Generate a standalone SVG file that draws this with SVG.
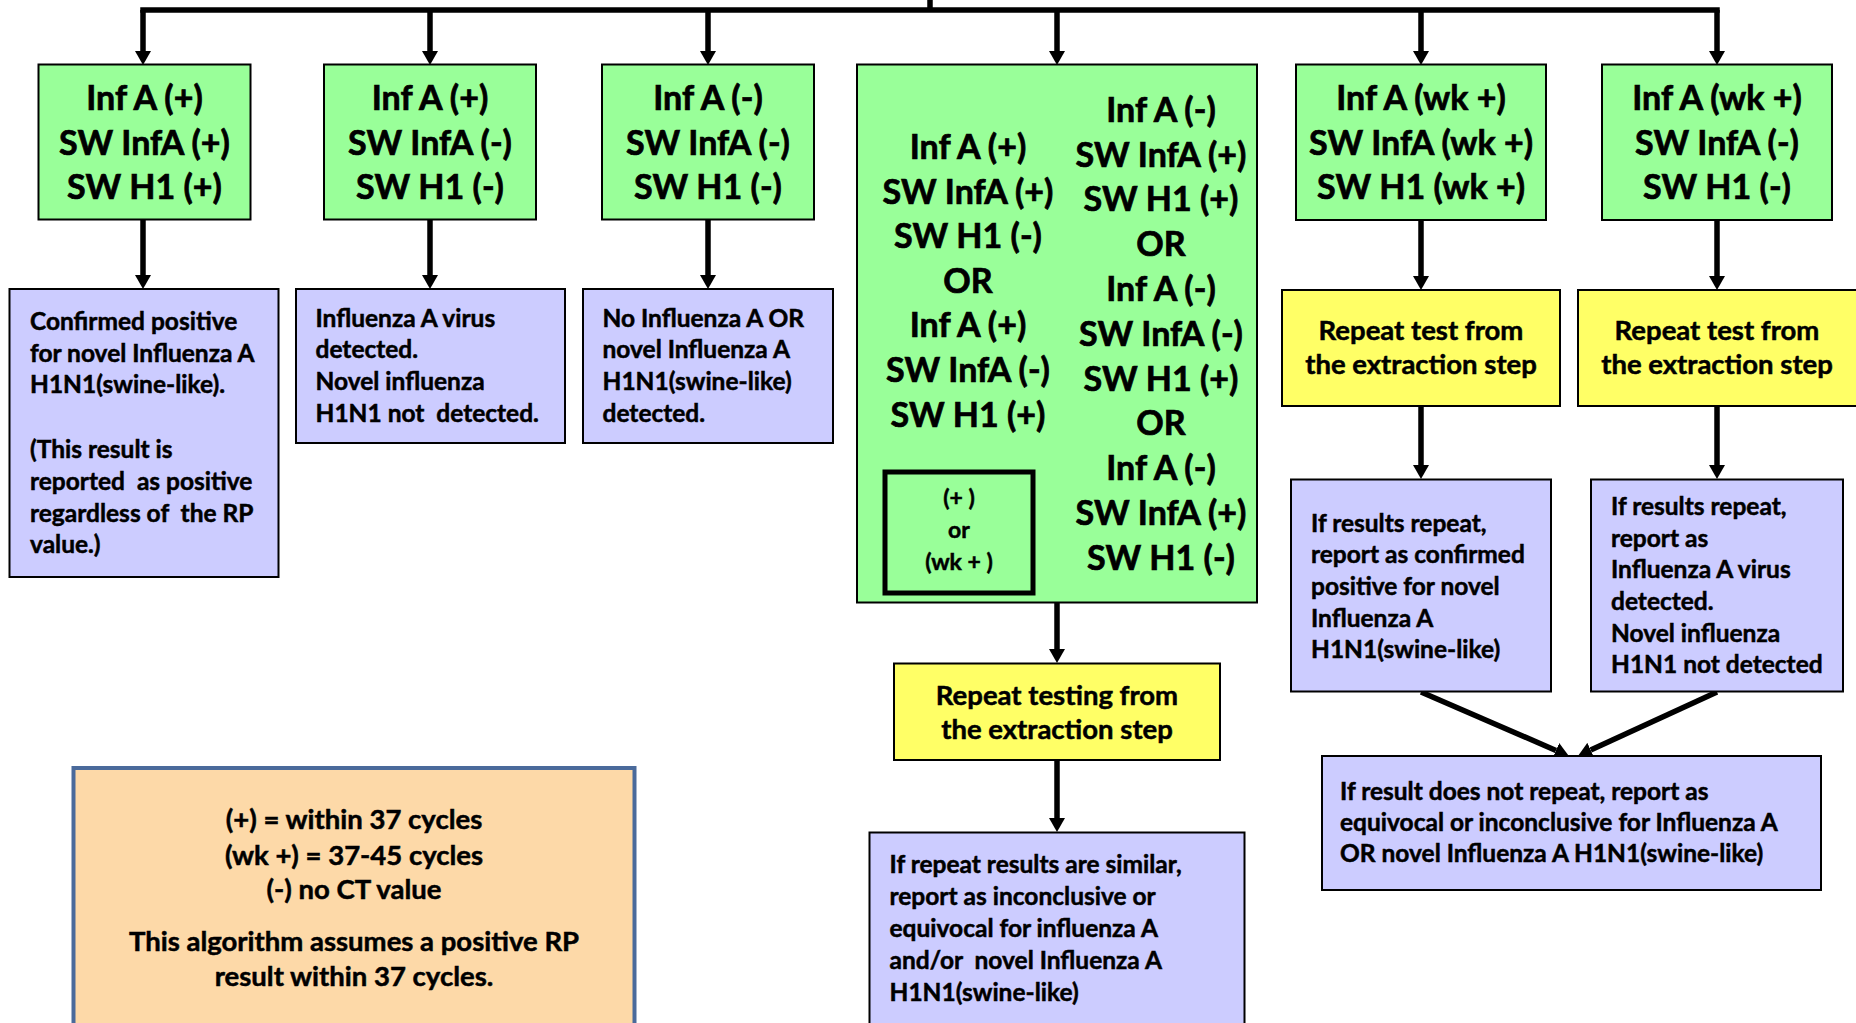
<svg xmlns="http://www.w3.org/2000/svg" width="1856" height="1023" viewBox="0 0 1856 1023">
<style>
.box{stroke:#000;stroke-width:2}
.g{fill:#99FF99}
.p{fill:#CCCCFF}
.y{fill:#FFFF66}
text{font-family:Lato,'Liberation Sans',sans-serif;font-weight:700;fill:#000;stroke:#000;stroke-width:0.5}
.tg{font-size:34px;text-anchor:middle;stroke-width:0.7}
.tp{font-size:24.5px;white-space:pre}
.ty{font-size:27.5px;text-anchor:middle}
.tl{font-size:27.5px;text-anchor:middle}
.ts{font-size:23px;text-anchor:middle}
.conn{stroke:#000;stroke-width:5.5;fill:none}
.arr{marker-end:url(#ah)}
</style>
<defs>
<marker id="ah" viewBox="0 -8 14 16" refX="0" refY="0" markerWidth="14" markerHeight="16" markerUnits="userSpaceOnUse" orient="auto">
<path d="M0,-8 L14,0 L0,8 z" fill="#000"/>
</marker>
</defs>
<rect width="1856" height="1023" fill="#fff"/>

<g id="connectors">
<path class="conn" d="M930,0 V10"/>
<path class="conn" d="M143,10 H1717" stroke-linecap="square"/>
<path class="conn arr" d="M143,10 V51"/>
<path class="conn arr" d="M430,10 V51"/>
<path class="conn arr" d="M708,10 V51"/>
<path class="conn arr" d="M1057,10 V51"/>
<path class="conn arr" d="M1421,10 V51"/>
<path class="conn arr" d="M1717,10 V51"/>
<path class="conn arr" d="M143,219 V275"/>
<path class="conn arr" d="M430,219 V275"/>
<path class="conn arr" d="M708,219 V275"/>
<path class="conn arr" d="M1057,603 V649"/>
<path class="conn arr" d="M1057,760 V818"/>
<path class="conn arr" d="M1421,220 V276"/>
<path class="conn arr" d="M1717,220 V276"/>
<path class="conn arr" d="M1421,406 V465"/>
<path class="conn arr" d="M1717,406 V465"/>
<path class="conn arr" d="M1421,692 L1556,750.4"/>
<path class="conn arr" d="M1717,692 L1590.7,750.1"/>
</g>

<g id="n-g1">
<rect class="box g" x="38.5" y="64.5" width="212" height="155"/>
<text class="tg"><tspan x="144.5" y="110">Inf A (+)</tspan><tspan x="144.5" y="154.5">SW InfA (+)</tspan><tspan x="144.5" y="199">SW H1 (+)</tspan></text>
</g>
<g id="n-g2">
<rect class="box g" x="324" y="64.5" width="212" height="155"/>
<text class="tg"><tspan x="430" y="110">Inf A (+)</tspan><tspan x="430" y="154.5">SW InfA (-)</tspan><tspan x="430" y="199">SW H1 (-)</tspan></text>
</g>
<g id="n-g3">
<rect class="box g" x="602" y="64.5" width="212" height="155"/>
<text class="tg"><tspan x="708" y="110">Inf A (-)</tspan><tspan x="708" y="154.5">SW InfA (-)</tspan><tspan x="708" y="199">SW H1 (-)</tspan></text>
</g>
<g id="n-g4">
<rect class="box g" x="857" y="64.5" width="400" height="538"/>
<text class="tg"><tspan x="968" y="159">Inf A (+)</tspan><tspan x="968" y="203.6">SW InfA (+)</tspan><tspan x="968" y="248.2">SW H1 (-)</tspan><tspan x="968" y="292.8">OR</tspan><tspan x="968" y="337.4">Inf A (+)</tspan><tspan x="968" y="382">SW InfA (-)</tspan><tspan x="968" y="426.6">SW H1 (+)</tspan></text>
<text class="tg"><tspan x="1161" y="121.7">Inf A (-)</tspan><tspan x="1161" y="166.5">SW InfA (+)</tspan><tspan x="1161" y="211.3">SW H1 (+)</tspan><tspan x="1161" y="256.1">OR</tspan><tspan x="1161" y="300.9">Inf A (-)</tspan><tspan x="1161" y="345.7">SW InfA (-)</tspan><tspan x="1161" y="390.5">SW H1 (+)</tspan><tspan x="1161" y="435.3">OR</tspan><tspan x="1161" y="480.1">Inf A (-)</tspan><tspan x="1161" y="524.9">SW InfA (+)</tspan><tspan x="1161" y="569.7">SW H1 (-)</tspan></text>
</g>
<g id="n-legend-small">
<rect x="885" y="472" width="148" height="121" fill="none" stroke="#000" stroke-width="5"/>
<text class="ts"><tspan x="959" y="506">(+ )</tspan><tspan x="959" y="538">or</tspan><tspan x="959" y="570">(wk + )</tspan></text>
</g>
<g id="n-g5">
<rect class="box g" x="1296" y="64.5" width="250" height="155.5"/>
<text class="tg"><tspan x="1421" y="110">Inf A (wk +)</tspan><tspan x="1421" y="154.5">SW InfA (wk +)</tspan><tspan x="1421" y="199">SW H1 (wk +)</tspan></text>
</g>
<g id="n-g6">
<rect class="box g" x="1602" y="64.5" width="230" height="155.5"/>
<text class="tg"><tspan x="1717" y="110">Inf A (wk +)</tspan><tspan x="1717" y="154.5">SW InfA (-)</tspan><tspan x="1717" y="199">SW H1 (-)</tspan></text>
</g>

<g id="n-p1">
<rect class="box p" x="9.5" y="289" width="269" height="288"/>
<text class="tp"><tspan x="30" y="330">Confirmed positive</tspan><tspan x="30" y="361.7">for novel Influenza A</tspan><tspan x="30" y="393.3">H1N1(swine-like).</tspan><tspan x="30" y="458.3">(This result is</tspan><tspan x="30" y="490">reported  as positive</tspan><tspan x="30" y="521.7">regardless of  the RP</tspan><tspan x="30" y="553.3">value.)</tspan></text>
</g>
<g id="n-p2">
<rect class="box p" x="296" y="289" width="269" height="154"/>
<text class="tp"><tspan x="315.5" y="326.7">Influenza A virus</tspan><tspan x="315.5" y="358.3">detected.</tspan><tspan x="315.5" y="390">Novel influenza</tspan><tspan x="315.5" y="421.7">H1N1 not  detected.</tspan></text>
</g>
<g id="n-p3">
<rect class="box p" x="583" y="289" width="250" height="154"/>
<text class="tp"><tspan x="602.5" y="326.7">No Influenza A OR</tspan><tspan x="602.5" y="358.3">novel Influenza A</tspan><tspan x="602.5" y="390">H1N1(swine-like)</tspan><tspan x="602.5" y="421.7">detected.</tspan></text>
</g>

<g id="n-y5">
<rect class="box y" x="1282" y="290" width="278" height="116"/>
<text class="ty"><tspan x="1421" y="340">Repeat test from</tspan><tspan x="1421" y="374">the extraction step</tspan></text>
</g>
<g id="n-y6">
<rect class="box y" x="1578" y="290" width="290" height="116"/>
<text class="ty"><tspan x="1717" y="340">Repeat test from</tspan><tspan x="1717" y="374">the extraction step</tspan></text>
</g>
<g id="n-p5">
<rect class="box p" x="1291" y="479.5" width="260" height="212"/>
<text class="tp"><tspan x="1311" y="531.7">If results repeat,</tspan><tspan x="1311" y="563.3">report as confirmed</tspan><tspan x="1311" y="595">positive for novel</tspan><tspan x="1311" y="626.7">Influenza A</tspan><tspan x="1311" y="658.3">H1N1(swine-like)</tspan></text>
</g>
<g id="n-p6">
<rect class="box p" x="1591" y="479.5" width="252" height="212"/>
<text class="tp"><tspan x="1611" y="515">If results repeat,</tspan><tspan x="1611" y="546.7">report as</tspan><tspan x="1611" y="578.3">Influenza A virus</tspan><tspan x="1611" y="610">detected.</tspan><tspan x="1611" y="641.7">Novel influenza</tspan><tspan x="1611" y="673.3">H1N1 not detected</tspan></text>
</g>
<g id="n-br">
<rect class="box p" x="1322" y="756" width="499" height="134"/>
<text class="tp"><tspan x="1340" y="800">If result does not repeat, report as</tspan><tspan x="1340" y="831">equivocal or inconclusive for Influenza A</tspan><tspan x="1340" y="862">OR novel Influenza A H1N1(swine-like)</tspan></text>
</g>

<g id="n-yc">
<rect class="box y" x="894" y="663.5" width="326" height="96.5"/>
<text class="ty"><tspan x="1057" y="705">Repeat testing from</tspan><tspan x="1057" y="739">the extraction step</tspan></text>
</g>
<g id="n-pc">
<rect class="box p" x="869.5" y="832.5" width="375" height="200"/>
<text class="tp"><tspan x="889.5" y="873.3">If repeat results are similar,</tspan><tspan x="889.5" y="905">report as inconclusive or</tspan><tspan x="889.5" y="936.7">equivocal for influenza A</tspan><tspan x="889.5" y="969">and/or  novel Influenza A</tspan><tspan x="889.5" y="1000.7">H1N1(swine-like)</tspan></text>
</g>

<g id="n-legend">
<rect x="73.5" y="768" width="561" height="265" fill="#FDD9A8" stroke="#4A6A9B" stroke-width="4"/>
<text class="tl"><tspan x="354" y="829">(+) = within 37 cycles</tspan><tspan x="354" y="865">(wk +) = 37-45 cycles</tspan><tspan x="354" y="899">(-) no CT value</tspan><tspan x="354" y="951">This algorithm assumes a positive RP</tspan><tspan x="354" y="986">result within 37 cycles.</tspan></text>
</g>
</svg>
